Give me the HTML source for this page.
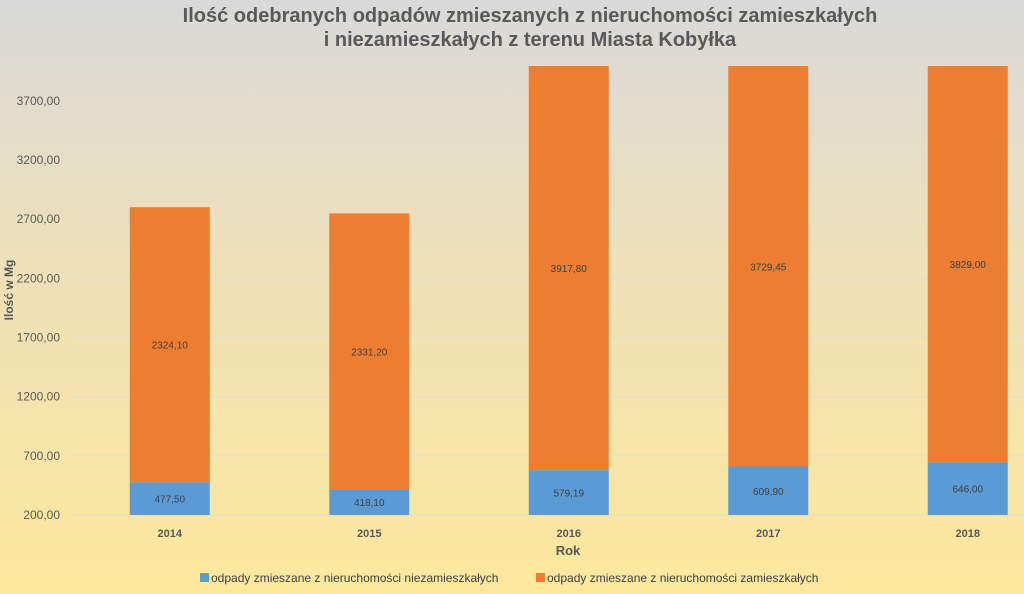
<!DOCTYPE html>
<html><head><meta charset="utf-8"><style>
body{margin:0;width:1024px;height:594px;overflow:hidden}
svg{display:block;font-family:"Liberation Sans",sans-serif}
</style></head><body>
<svg id="c" width="1024" height="594">
<defs><linearGradient id="bg" x1="0" y1="0" x2="0" y2="1">
<stop offset="0" stop-color="#d9d9d9"/><stop offset="0.45" stop-color="#eee0b8"/><stop offset="1" stop-color="#fde89c"/></linearGradient></defs>
<rect width="1024" height="594" fill="url(#bg)"/>
<text x="530" y="22" text-anchor="middle" font-size="20" font-weight="bold" fill="#595959">Ilość odebranych odpadów zmieszanych z nieruchomości  zamieszkałych</text>
<text x="530" y="46" text-anchor="middle" font-size="20" font-weight="bold" fill="#595959">i niezamieszkałych z terenu Miasta Kobyłka</text>
<text transform="translate(13,290) rotate(-90)" text-anchor="middle" font-size="12" font-weight="bold" fill="#595959">Ilość w Mg</text>
<text x="568" y="555" text-anchor="middle" font-size="13" font-weight="bold" fill="#595959">Rok</text>
<g id="grid"></g><g id="bars"></g><g id="labels"></g>
<g>
<rect x="200" y="573" width="9" height="9" fill="#5b9bd5"/>
<text x="211" y="582" font-size="12" fill="#404040">odpady zmieszane z nieruchomości niezamieszkałych</text>
<rect x="536" y="573" width="9" height="9" fill="#ed7d31"/>
<text x="547" y="582" font-size="12" fill="#404040">odpady zmieszane z nieruchomości zamieszkałych</text>
</g>
</svg>
<script>
const categories=["2014","2015","2016","2017","2018"];
const niezamieszkale=[477.50,418.10,579.19,609.90,646.00];
const zamieszkale=[2324.10,2331.20,3917.80,3729.45,3829.00];
const yTicks=[200,700,1200,1700,2200,2700,3200,3700];
const yMin=200,yMax=3995,plotTop=66,plotBottom=515,plotLeft=70,step=199.5,barW=80;
const NS="http://www.w3.org/2000/svg";
function y(v){return plotBottom-(v-yMin)*(plotBottom-plotTop)/(yMax-yMin);}
function x(i){return plotLeft+step*(i+0.5);}
function fmt(v){return v.toFixed(2).replace('.',',');}
function mk(t,a,p){const e=document.createElementNS(NS,t);for(const k in a)e.setAttribute(k,a[k]);p.appendChild(e);return e;}
const grid=document.getElementById('grid'),bars=document.getElementById('bars'),labels=document.getElementById('labels');
yTicks.forEach(v=>{
 const l=mk('line',{x1:plotLeft,x2:1024,y1:y(v),y2:y(v),stroke:'#e3dccb','stroke-width':1},grid);
 
 
 const t=mk('text',{x:60,y:y(v)+4,'text-anchor':'end','font-size':12,fill:'#595959'},grid);
 t.textContent=fmt(v);
 
 
});
categories.forEach((c,i)=>{
 const b=niezamieszkale[i],o=zamieszkale[i];
 const yb=Math.max(y(b),plotTop),yo=Math.max(y(b+o),plotTop);
 const r1=mk('rect',{x:x(i)-barW/2,y:yb,width:barW,height:plotBottom-yb,fill:'#5b9bd5'},bars);
 
 
 const r2=mk('rect',{x:x(i)-barW/2,y:yo,width:barW,height:yb-yo,fill:'#ed7d31'},bars);
 
 
 const t1=mk('text',{x:x(i),y:(yb+plotBottom)/2+4,'text-anchor':'middle','font-size':10,fill:'#404040'},labels);
 t1.textContent=fmt(b);
 
 
 const t2=mk('text',{x:x(i),y:(yo+yb)/2+4,'text-anchor':'middle','font-size':10,fill:'#404040'},labels);
 t2.textContent=fmt(o);
 
 
 const t3=mk('text',{x:x(i),y:537,'text-anchor':'middle','font-size':11,'font-weight':'bold',fill:'#595959'},labels);
 t3.textContent=c;
 
 
});
</script>
</body></html>
